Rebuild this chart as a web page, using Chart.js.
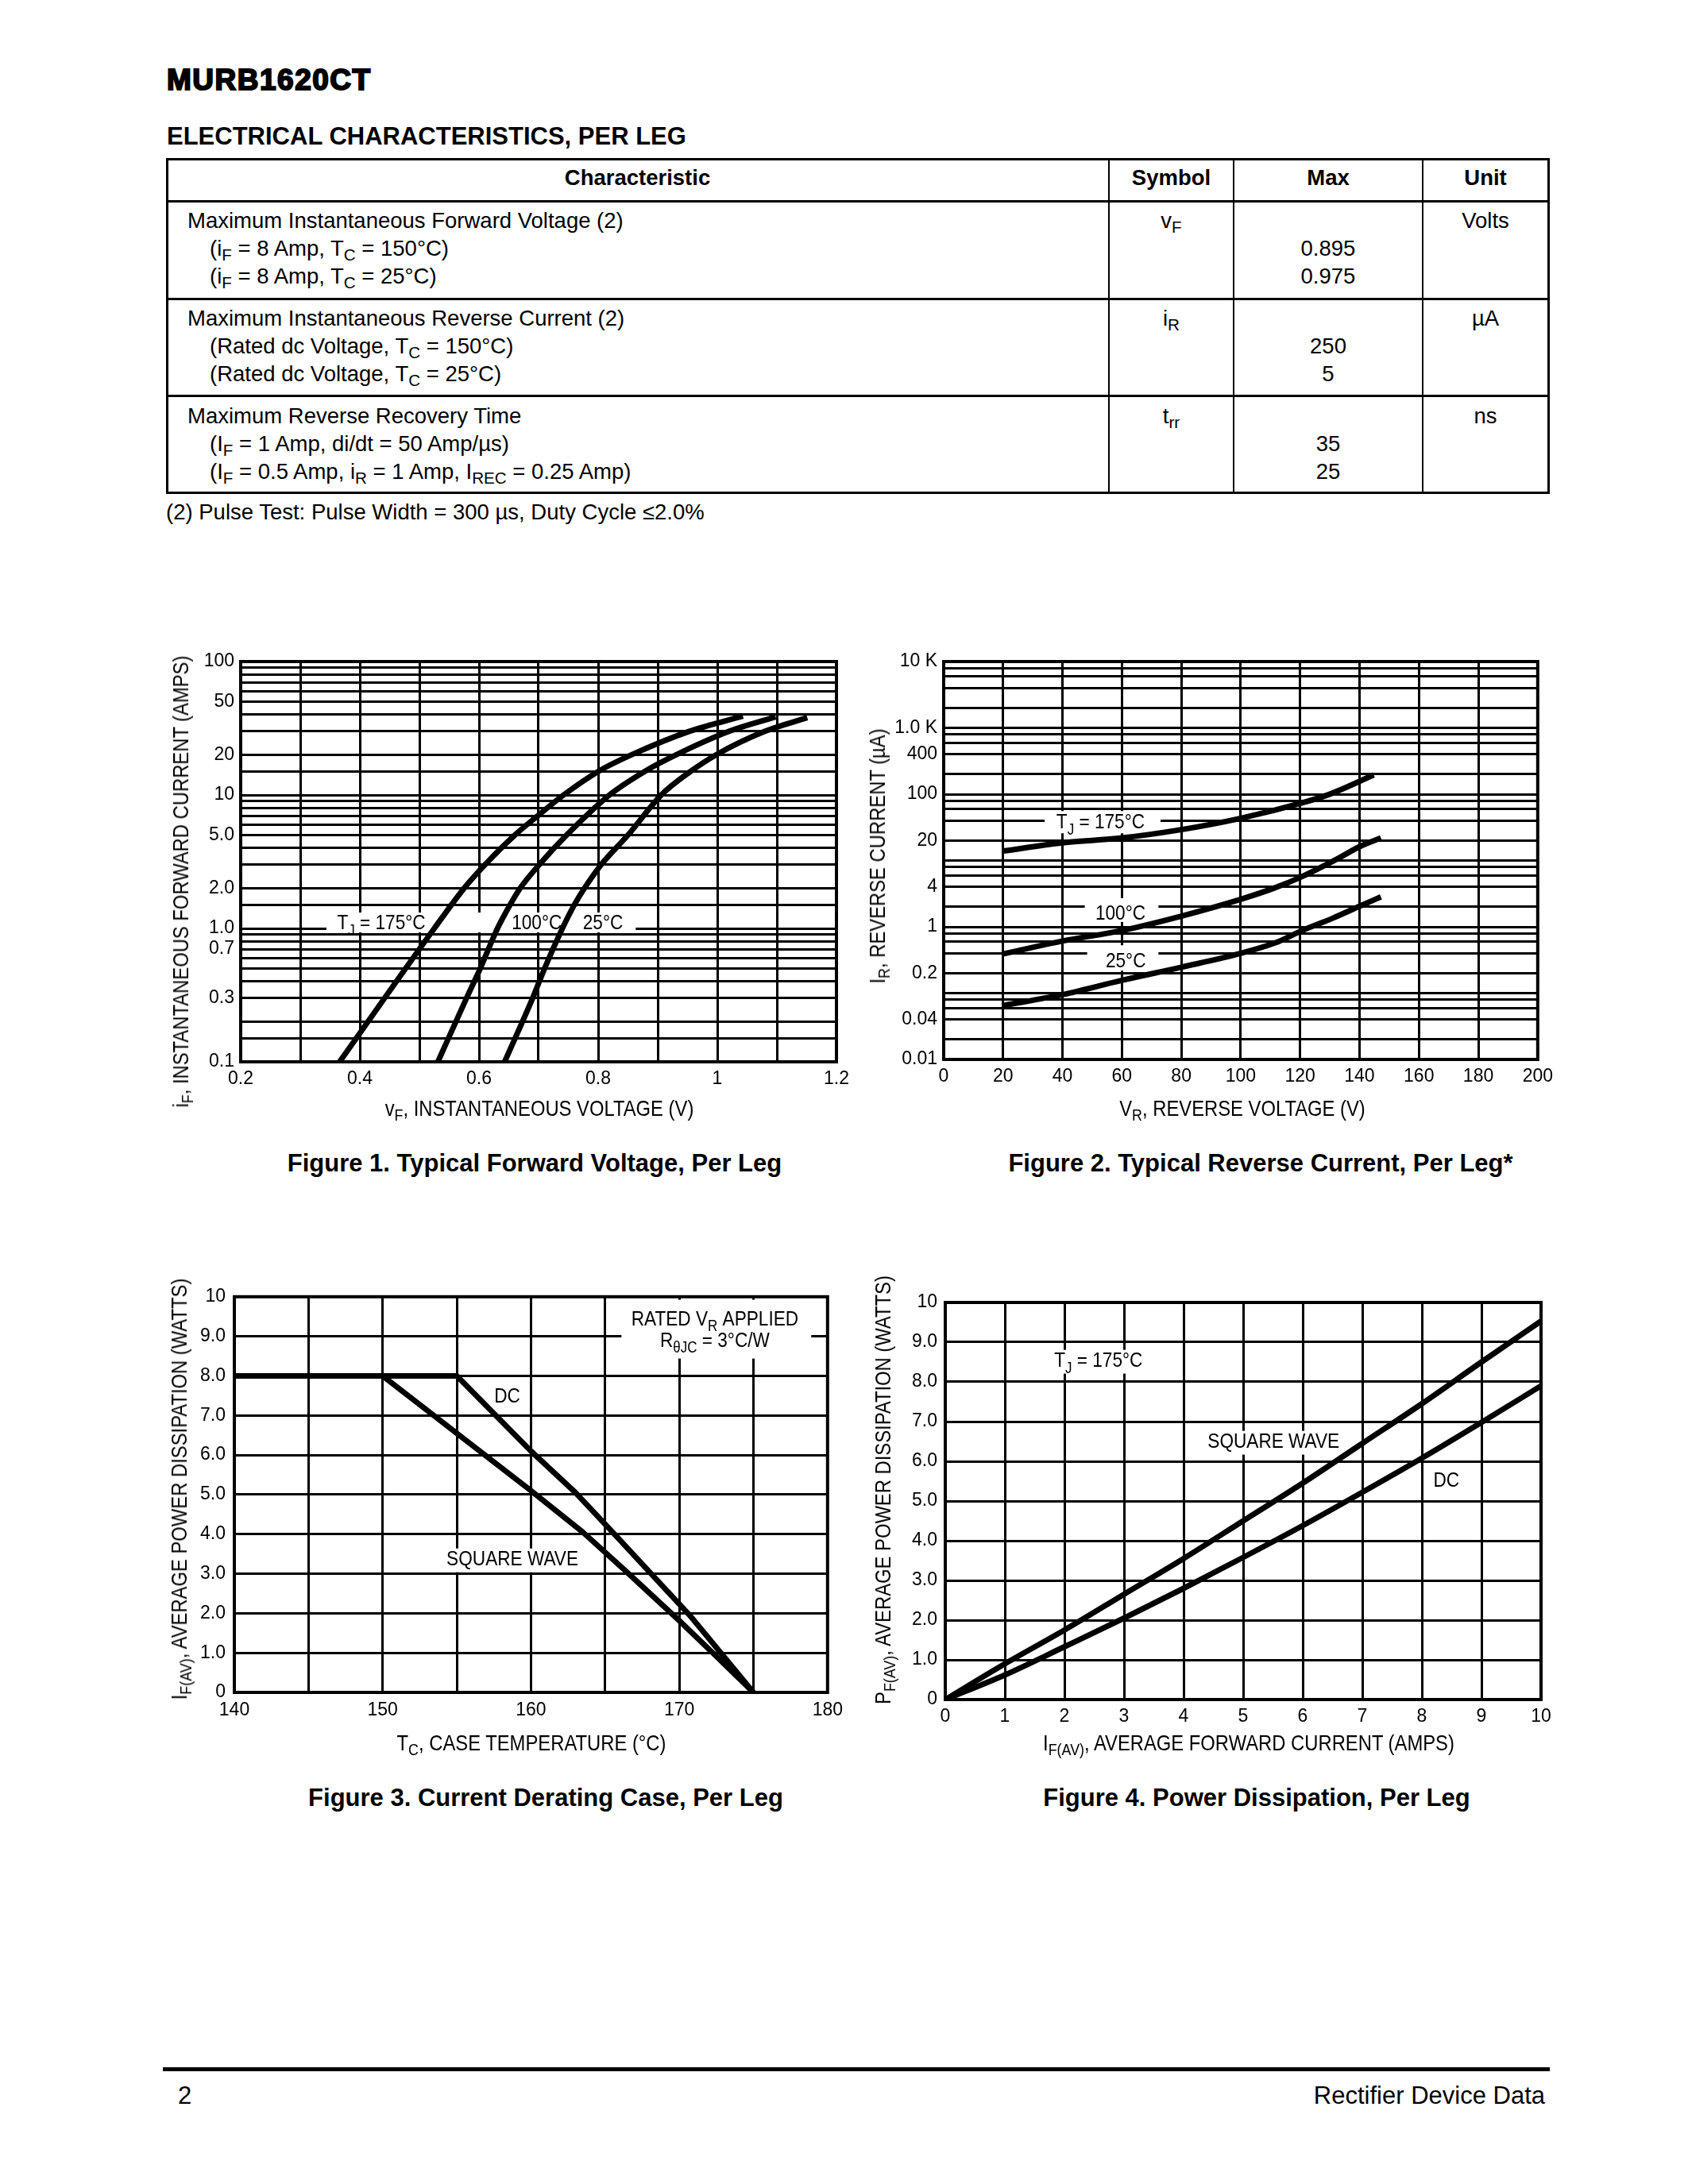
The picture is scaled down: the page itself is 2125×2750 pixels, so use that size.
<!DOCTYPE html>
<html>
<head>
<meta charset="utf-8">
<title>MURB1620CT</title>
<script src="https://cdn.jsdelivr.net/npm/chart.js@4.4.1/dist/chart.umd.min.js"></script>
<style>
  body { margin: 0; background: #fff; }
  #page { position: relative; width: 2125px; height: 2750px; background: #fff; overflow: hidden;
          font-family: "Liberation Sans", Arial, Helvetica, sans-serif; color: #000; }
  .t { position: absolute; white-space: nowrap; line-height: 1; }
  .ln { position: absolute; background: #000; }
  .cell { position: absolute; font-size: 27.5px; line-height: 35px; white-space: nowrap; }
  .c { text-align: center; }
  .ind { padding-left: 28px; }
  sub { font-size: 0.75em; vertical-align: -0.3em; line-height: 0; }
  .ax { position: absolute; white-space: nowrap; line-height: 1; z-index: 2;
        font-family: "Liberation Sans Narrow", "Liberation Sans", Arial, sans-serif; font-size: 28px; }
  .cap { position: absolute; white-space: nowrap; line-height: 1; font-weight: bold; font-size: 31px;
         transform: translateX(-50%); }
</style>
</head>
<body>
<div id="page">
  <div class="t" style="left:210px;top:82px;font-size:37px;font-weight:900;-webkit-text-stroke:2px #000;letter-spacing:1.5px;">MURB1620CT</div>
  <div class="t" style="left:210px;top:156px;font-size:31px;font-weight:bold;">ELECTRICAL CHARACTERISTICS, PER LEG</div>

  <!-- table frame -->
  <div class="ln" style="left:209px;top:199px;width:1742px;height:3px;"></div>
  <div class="ln" style="left:209px;top:252px;width:1742px;height:3px;"></div>
  <div class="ln" style="left:209px;top:375px;width:1742px;height:3px;"></div>
  <div class="ln" style="left:209px;top:497px;width:1742px;height:3px;"></div>
  <div class="ln" style="left:209px;top:619px;width:1742px;height:3px;"></div>
  <div class="ln" style="left:209px;top:199px;width:3px;height:423px;"></div>
  <div class="ln" style="left:1948px;top:199px;width:3px;height:423px;"></div>
  <div class="ln" style="left:1395px;top:199px;width:2px;height:423px;"></div>
  <div class="ln" style="left:1552px;top:199px;width:2px;height:423px;"></div>
  <div class="ln" style="left:1790px;top:199px;width:2px;height:423px;"></div>

  <!-- header row -->
  <div class="cell c" style="left:209px;width:1187px;top:206px;font-weight:bold;">Characteristic</div>
  <div class="cell c" style="left:1396px;width:157px;top:206px;font-weight:bold;">Symbol</div>
  <div class="cell c" style="left:1553px;width:238px;top:206px;font-weight:bold;">Max</div>
  <div class="cell c" style="left:1791px;width:158px;top:206px;font-weight:bold;">Unit</div>

  <!-- row 1 -->
  <div class="cell" style="left:236px;top:260px;">Maximum Instantaneous Forward Voltage (2)<br><span class="ind">(i<sub>F</sub> = 8 Amp, T<sub>C</sub> = 150°C)</span><br><span class="ind">(i<sub>F</sub> = 8 Amp, T<sub>C</sub> = 25°C)</span></div>
  <div class="cell c" style="left:1396px;width:157px;top:260px;">v<sub>F</sub></div>
  <div class="cell c" style="left:1553px;width:238px;top:260px;">&nbsp;<br>0.895<br>0.975</div>
  <div class="cell c" style="left:1791px;width:158px;top:260px;">Volts</div>

  <!-- row 2 -->
  <div class="cell" style="left:236px;top:383px;">Maximum Instantaneous Reverse Current (2)<br><span class="ind">(Rated dc Voltage, T<sub>C</sub> = 150°C)</span><br><span class="ind">(Rated dc Voltage, T<sub>C</sub> = 25°C)</span></div>
  <div class="cell c" style="left:1396px;width:157px;top:383px;">i<sub>R</sub></div>
  <div class="cell c" style="left:1553px;width:238px;top:383px;">&nbsp;<br>250<br>5</div>
  <div class="cell c" style="left:1791px;width:158px;top:383px;">µA</div>

  <!-- row 3 -->
  <div class="cell" style="left:236px;top:506px;">Maximum Reverse Recovery Time<br><span class="ind">(I<sub>F</sub> = 1 Amp, di/dt = 50 Amp/µs)</span><br><span class="ind">(I<sub>F</sub> = 0.5 Amp, i<sub>R</sub> = 1 Amp, I<sub>REC</sub> = 0.25 Amp)</span></div>
  <div class="cell c" style="left:1396px;width:157px;top:506px;">t<sub>rr</sub></div>
  <div class="cell c" style="left:1553px;width:238px;top:506px;">&nbsp;<br>35<br>25</div>
  <div class="cell c" style="left:1791px;width:158px;top:506px;">ns</div>

  <div class="cell" style="left:209px;top:627px;">(2) Pulse Test: Pulse Width = 300 µs, Duty Cycle ≤2.0%</div>

  <!-- axis titles -->
  <div class="ax" style="left:228px;top:1110px;transform:translate(-50%,-50%) rotate(-90deg) scaleX(0.85);">i<sub>F</sub>, INSTANTANEOUS FORWARD CURRENT (AMPS)</div>
  <div class="ax" style="left:679px;top:1396px;transform:translate(-50%,-50%) scaleX(0.85);">v<sub>F</sub>, INSTANTANEOUS VOLTAGE (V)</div>
  <div class="ax" style="left:1105px;top:1078px;transform:translate(-50%,-50%) rotate(-90deg) scaleX(0.85);">I<sub>R</sub>, REVERSE CURRENT (µA)</div>
  <div class="ax" style="left:1564px;top:1396px;transform:translate(-50%,-50%) scaleX(0.85);">V<sub>R</sub>, REVERSE VOLTAGE (V)</div>
  <div class="ax" style="left:226px;top:1875px;transform:translate(-50%,-50%) rotate(-90deg) scaleX(0.85);">I<sub>F(AV)</sub>, AVERAGE POWER DISSIPATION (WATTS)</div>
  <div class="ax" style="left:669px;top:2195px;transform:translate(-50%,-50%) scaleX(0.85);">T<sub>C</sub>, CASE TEMPERATURE (°C)</div>
  <div class="ax" style="left:1112px;top:1876px;transform:translate(-50%,-50%) rotate(-90deg) scaleX(0.85);">P<sub>F(AV)</sub>, AVERAGE POWER DISSIPATION (WATTS)</div>
  <div class="ax" style="left:1572px;top:2195px;transform:translate(-50%,-50%) scaleX(0.85);">I<sub>F(AV)</sub>, AVERAGE FORWARD CURRENT (AMPS)</div>

  <!-- captions -->
  <div class="cap" style="left:673px;top:1449px;">Figure 1. Typical Forward Voltage, Per Leg</div>
  <div class="cap" style="left:1587px;top:1449px;">Figure 2. Typical Reverse Current, Per Leg*</div>
  <div class="cap" style="left:687px;top:2248px;">Figure 3. Current Derating Case, Per Leg</div>
  <div class="cap" style="left:1582px;top:2248px;">Figure 4. Power Dissipation, Per Leg</div>

  <!-- footer -->
  <div class="ln" style="left:205px;top:2603px;width:1746px;height:5px;"></div>
  <div class="t" style="left:224px;top:2623px;font-size:31px;">2</div>
  <div class="t" style="right:180px;top:2623px;font-size:31px;">Rectifier Device Data</div>
</div>

<script>
// ---- Figure 1: typical forward voltage ----
var fig1XTickValues = [0.2, 0.4, 0.6, 0.8, 1.0, 1.2];
var fig1XTickLabels = ['0.2', '0.4', '0.6', '0.8', '1', '1.2'];
var fig1YTickValues = [0.1, 0.3, 0.7, 1, 2, 5, 10, 20, 50, 100];
var fig1YTickLabels = ['0.1', '0.3', '0.7', '1.0', '2.0', '5.0', '10', '20', '50', '100'];
var fig1Volts175 = [0.366, 0.525, 0.575, 0.610, 0.660, 0.699, 0.742, 0.800, 0.856, 0.953, 1.043];
var fig1Amps175  = [0.1, 1, 2, 3, 5, 7, 10, 15, 20, 30, 39];
var fig1Volts100 = [0.531, 0.579, 0.602, 0.631, 0.652, 0.669, 0.701, 0.747, 0.819, 0.878, 0.931, 1.020, 1.098];
var fig1Amps100  = [0.1, 0.3, 0.5, 1, 1.5, 2, 3, 5, 10, 15, 20, 30, 38.5];
var fig1Volts25  = [0.643, 0.690, 0.710, 0.740, 0.760, 0.777, 0.805, 0.850, 0.906, 0.955, 0.998, 1.080, 1.151];
var fig1Amps25   = [0.1, 0.3, 0.5, 1, 1.5, 2, 3, 5, 10, 15, 20, 30, 38];

// ---- Figure 2: typical reverse current ----
var fig2XTickValues = [0, 20, 40, 60, 80, 100, 120, 140, 160, 180, 200];
var fig2XTickLabels = ['0', '20', '40', '60', '80', '100', '120', '140', '160', '180', '200'];
var fig2YTickValues = [0.01, 0.04, 0.2, 1, 4, 20, 100, 400, 1000, 10000];
var fig2YTickLabels = ['0.01', '0.04', '0.2', '1', '4', '20', '100', '400', '1.0 K', '10 K'];
var fig2Volts175 = [20, 40, 60, 80, 100, 120.7, 129.7, 144.8];
var fig2Amps175  = [13.9, 18.5, 21.9, 29.2, 43.3, 74, 99, 195];
var fig2Volts100 = [20, 40, 60, 80, 100, 111.7, 120.7, 132.7, 140.2, 147.2];
var fig2Amps100  = [0.39, 0.61, 0.88, 1.45, 2.6, 3.9, 5.75, 10.7, 16.3, 21.9];
var fig2Volts25  = [20, 40, 60, 80, 100, 111.7, 120.7, 131, 140.2, 147.2];
var fig2Amps25   = [0.065, 0.095, 0.156, 0.246, 0.398, 0.575, 0.88, 1.35, 2.06, 2.83];

// ---- Figure 3: current derating ----
var fig3XTickValues = [140, 150, 160, 170, 180];
var fig3XTickLabels = ['140', '150', '160', '170', '180'];
var fig3YTickValues = [0, 1, 2, 3, 4, 5, 6, 7, 8, 9, 10];
var fig3YTickLabels = ['0', '1.0', '2.0', '3.0', '4.0', '5.0', '6.0', '7.0', '8.0', '9.0', '10'];
var fig3TempDC = [140, 155, 160, 163, 165.5, 170.7, 175];
var fig3AmpsDC = [8, 8, 6.1, 5.05, 4.05, 1.95, 0];
var fig3TempSW = [140, 150, 160, 163.5, 166.3, 169.9, 172.4, 175];
var fig3AmpsSW = [8, 8, 5.1, 4.05, 3.1, 1.85, 0.95, 0];

// ---- Figure 4: power dissipation ----
var fig4XTickValues = [0, 1, 2, 3, 4, 5, 6, 7, 8, 9, 10];
var fig4XTickLabels = ['0', '1', '2', '3', '4', '5', '6', '7', '8', '9', '10'];
var fig4YTickValues = [0, 1, 2, 3, 4, 5, 6, 7, 8, 9, 10];
var fig4YTickLabels = ['0', '1.0', '2.0', '3.0', '4.0', '5.0', '6.0', '7.0', '8.0', '9.0', '10'];
var fig4Amps    = [0, 1, 2, 3, 4, 5, 6, 7, 8, 9, 10];
var fig4WattsSW = [0, 0.9, 1.75, 2.65, 3.55, 4.5, 5.45, 6.45, 7.45, 8.5, 9.53];
var fig4WattsDC = [0, 0.62, 1.33, 2.05, 2.8, 3.58, 4.38, 5.22, 6.08, 6.98, 7.9];

var TICK_FONT = '"Liberation Sans Narrow", "Liberation Sans", Arial, sans-serif';
var page = document.getElementById('page');

function pts(xs, ys) {
    return xs.map(function (x, i) { return { x: x, y: ys[i] }; });
}

// grid line positions (every minor division of the printed graph paper)
function logGrid(decades, mults, top) {
    var g = [];
    decades.forEach(function (d) { mults.forEach(function (m) { g.push(d * m); }); });
    g.push(top);
    return g;
}
function linGrid(min, max, step) {
    var g = [];
    for (var v = min; v <= max + 1e-9; v += step) g.push(Math.round(v * 1e6) / 1e6);
    return g;
}

function labelFor(values, labels) {
    return function (v) {
        for (var i = 0; i < values.length; i++) {
            if (Math.abs(values[i] - v) <= 1e-6 * Math.max(1e-3, Math.abs(values[i]))) return labels[i];
        }
        return '';
    };
}

// condensed text with subscript parts, drawn on the canvas
function drawRich(ctx, parts, cx, baseY, size, bg) {
    var k = 0.87;
    var widths = parts.map(function (p) {
        ctx.font = (p[1] ? size * 0.75 : size) + 'px "Liberation Sans", Arial, sans-serif';
        return ctx.measureText(p[0]).width;
    });
    var total = widths.reduce(function (a, b) { return a + b; }, 0);
    ctx.save();
    ctx.translate(cx, 0);
    ctx.scale(k, 1);
    var x = -total / 2;
    if (bg) {
        ctx.fillStyle = '#fff';
        ctx.fillRect(x - 7, baseY - size * 0.82, total + 14, size * 1.15);
    }
    ctx.fillStyle = '#000';
    ctx.textAlign = 'left';
    ctx.textBaseline = 'alphabetic';
    parts.forEach(function (p, i) {
        ctx.font = (p[1] ? size * 0.75 : size) + 'px "Liberation Sans", Arial, sans-serif';
        ctx.fillText(p[0], x, p[1] ? baseY + size * 0.3 : baseY);
        x += widths[i];
    });
    ctx.restore();
}

function annoPlugin(spec) {
    return {
        id: 'anno',
        beforeDatasetsDraw: function (chart) {
            var ctx = chart.ctx, a = chart.chartArea;
            var sx = chart.scales.x, sy = chart.scales.y;
            ctx.save();
            ctx.fillStyle = '#fff';
            (spec.masks || []).forEach(function (m) {
                var x0 = sx.getPixelForValue(m.x0), x1 = sx.getPixelForValue(m.x1);
                var yc = sy.getPixelForValue(m.y);
                ctx.fillRect(x0, yc - m.up, x1 - x0, m.up + m.down);
            });
            ctx.strokeStyle = '#000';
            ctx.lineWidth = 4;
            ctx.strokeRect(a.left, a.top, a.right - a.left, a.bottom - a.top);
            (spec.labels || []).forEach(function (l) {
                drawRich(ctx, l.parts, sx.getPixelForValue(l.x), sy.getPixelForValue(l.y) + (l.dy || 0), 26, l.bg);
            });
            ctx.restore();
        }
    };
}

function scaleOpts(cfg, isY, size) {
    return {
        type: cfg.type || 'linear',
        min: cfg.min,
        max: cfg.max,
        afterBuildTicks: function (s) { s.ticks = cfg.grid.map(function (v) { return { value: v }; }); },
        afterFit: function (s) { if (isY) s.width = size; else s.height = size; },
        grid: { color: '#000', lineWidth: 3, drawTicks: false },
        border: { display: false },
        ticks: {
            autoSkip: false,
            maxRotation: 0,
            padding: cfg.pad,
            color: '#000',
            font: { family: TICK_FONT, size: 23 },
            callback: labelFor(cfg.tickValues, cfg.tickLabels)
        }
    };
}

function makeChart(box, xCfg, yCfg, series, smooth, anno) {
    var L = 120, T = 24, R = 24, B = 56;
    var cv = document.createElement('canvas');
    cv.width = box.w + L + R;
    cv.height = box.h + T + B;
    cv.style.position = 'absolute';
    cv.style.left = (box.x - L) + 'px';
    cv.style.top = (box.y - T) + 'px';
    cv.style.width = cv.width + 'px';
    cv.style.height = cv.height + 'px';
    page.appendChild(cv);
    return new Chart(cv.getContext('2d'), {
        type: 'scatter',
        data: {
            datasets: series.map(function (s) {
                return {
                    label: s.name,
                    data: s.data,
                    showLine: true,
                    borderColor: '#000',
                    backgroundColor: '#000',
                    borderWidth: 7,
                    pointRadius: 0,
                    tension: 0,
                    cubicInterpolationMode: smooth ? 'monotone' : 'default',
                    borderJoinStyle: 'round'
                };
            })
        },
        options: {
            responsive: false,
            animation: false,
            devicePixelRatio: 1,
            events: [],
            layout: { padding: { left: 0, top: T, right: R, bottom: 0 } },
            plugins: { legend: { display: false }, tooltip: { enabled: false } },
            scales: { x: scaleOpts(xCfg, false, B), y: scaleOpts(yCfg, true, L) }
        },
        plugins: [annoPlugin(anno)]
    });
}

// Figure 1
makeChart({ x: 303, y: 833, w: 750, h: 504 },
    { min: 0.2, max: 1.2, grid: linGrid(0.2, 1.2, 0.1), tickValues: fig1XTickValues, tickLabels: fig1XTickLabels, pad: 8 },
    { type: 'logarithmic', min: 0.1, max: 100, grid: logGrid([0.1, 1, 10], [1, 1.5, 2, 3, 4, 5, 6, 7, 8, 9], 100),
      tickValues: fig1YTickValues, tickLabels: fig1YTickLabels, pad: 8 },
    [{ name: 'TJ = 175°C', data: pts(fig1Volts175, fig1Amps175) },
     { name: '100°C', data: pts(fig1Volts100, fig1Amps100) },
     { name: '25°C', data: pts(fig1Volts25, fig1Amps25) }],
    true,
    {
        masks: [{ x0: 0.344, x1: 0.863, y: 1, up: 20, down: 5 }],
        labels: [
            { x: 0.436, y: 1, dy: 1, parts: [['T', 0], ['J', 1], [' = 175°C', 0]] },
            { x: 0.697, y: 1, dy: 1, parts: [['100°C', 0]] },
            { x: 0.808, y: 1, dy: 1, parts: [['25°C', 0]] }
        ]
    });

// Figure 2
makeChart({ x: 1188, y: 833, w: 751, h: 501 },
    { min: 0, max: 200, grid: linGrid(0, 200, 20), tickValues: fig2XTickValues, tickLabels: fig2XTickLabels, pad: 8 },
    { type: 'logarithmic', min: 0.01, max: 10000, grid: logGrid([0.01, 0.1, 1, 10, 100, 1000], [1, 2, 4, 6, 8], 10000),
      tickValues: fig2YTickValues, tickLabels: fig2YTickLabels, pad: 8 },
    [{ name: 'TJ = 175°C', data: pts(fig2Volts175, fig2Amps175) },
     { name: '100°C', data: pts(fig2Volts100, fig2Amps100) },
     { name: '25°C', data: pts(fig2Volts25, fig2Amps25) }],
    true,
    {
        masks: [
            { x0: 34, x1: 73, y: 40, up: 12, down: 16 },
            { x0: 47.5, x1: 72.3, y: 2, up: 11, down: 19 },
            { x0: 48.3, x1: 72.3, y: 0.4, up: 10, down: 22 }
        ],
        labels: [
            { x: 52.8, y: 40, dy: 10, parts: [['T', 0], ['J', 1], [' = 175°C', 0]] },
            { x: 59.5, y: 2, dy: 16, parts: [['100°C', 0]] },
            { x: 61.3, y: 0.4, dy: 18, parts: [['25°C', 0]] }
        ]
    });

// Figure 3
makeChart({ x: 295, y: 1632, w: 751, h: 499 },
    { min: 140, max: 180, grid: linGrid(140, 180, 5), tickValues: fig3XTickValues, tickLabels: fig3XTickLabels, pad: 9 },
    { min: 0, max: 10, grid: linGrid(0, 10, 1), tickValues: fig3YTickValues, tickLabels: fig3YTickLabels, pad: 11 },
    [{ name: 'DC', data: pts(fig3TempDC, fig3AmpsDC) },
     { name: 'SQUARE WAVE', data: pts(fig3TempSW, fig3AmpsSW) }],
    false,
    {
        masks: [{ x0: 166.1, x1: 178.9, y: 9, up: 46, down: 28 }],
        labels: [
            { x: 172.4, y: 9, dy: -14, parts: [['RATED V', 0], ['R', 1], [' APPLIED', 0]] },
            { x: 172.4, y: 9, dy: 13, parts: [['R', 0], ['θJC', 1], [' = 3°C/W', 0]] },
            { x: 158.4, y: 7.51, dy: 9, parts: [['DC', 0]] },
            { x: 158.75, y: 3.39, dy: 9, bg: true, parts: [['SQUARE WAVE', 0]] }
        ]
    });

// Figure 4
makeChart({ x: 1190, y: 1640, w: 750, h: 500 },
    { min: 0, max: 10, grid: linGrid(0, 10, 1), tickValues: fig4XTickValues, tickLabels: fig4XTickLabels, pad: 8 },
    { min: 0, max: 10, grid: linGrid(0, 10, 1), tickValues: fig4YTickValues, tickLabels: fig4YTickLabels, pad: 10 },
    [{ name: 'SQUARE WAVE', data: pts(fig4Amps, fig4WattsSW) },
     { name: 'DC', data: pts(fig4Amps, fig4WattsDC) }],
    true,
    {
        labels: [
            { x: 2.57, y: 8.56, dy: 9, bg: true, parts: [['T', 0], ['J', 1], [' = 175°C', 0]] },
            { x: 5.51, y: 6.52, dy: 9, bg: true, parts: [['SQUARE WAVE', 0]] },
            { x: 8.41, y: 5.54, dy: 9, bg: true, parts: [['DC', 0]] }
        ]
    });
</script>
</body>
</html>
